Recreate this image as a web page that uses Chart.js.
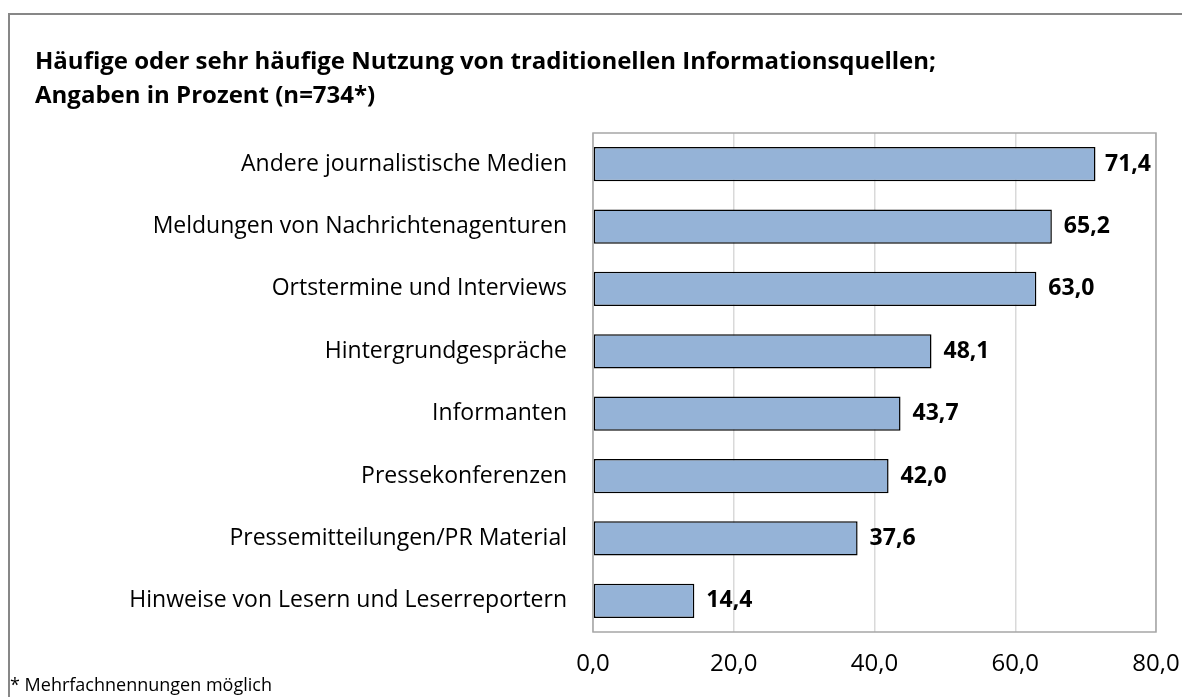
<!DOCTYPE html>
<html>
<head>
<meta charset="utf-8">
<script src="https://cdn.jsdelivr.net/npm/chart.js@4.4.0/dist/chart.umd.min.js"></script>
<style>
  html, body { margin: 0; padding: 0; background: #fff; }
  #chart { display: block; }
</style>
</head>
<body>
<canvas id="chart" width="1182" height="697"></canvas>
<script>
// ================= DATA =================
const categories = [
    'Andere journalistische Medien',
    'Meldungen von Nachrichtenagenturen',
    'Ortstermine und Interviews',
    'Hintergrundgespräche',
    'Informanten',
    'Pressekonferenzen',
    'Pressemitteilungen/PR Material',
    'Hinweise von Lesern und Leserreportern'
];
const values = [71.4, 65.2, 63.0, 48.1, 43.7, 42.0, 37.6, 14.4];
const tickValues = [0, 20, 40, 60, 80];
const titleLines = [
    'Häufige oder sehr häufige Nutzung von traditionellen Informationsquellen;',
    'Angaben in Prozent (n=734*)'
];
const footnote = '* Mehrfachnennungen möglich';

const FONT = '"Open Sans", sans-serif';

function fmt(v) {
    return v.toFixed(1).replace('.', ',');
}

// ================= DECORATION PLUGIN =================
const decorPlugin = {
    id: 'decor',
    beforeDraw(chart) {
        const { ctx } = chart;
        ctx.save();
        // outer frame (top + left)
        ctx.strokeStyle = '#878787';
        ctx.lineWidth = 2;
        ctx.beginPath();
        ctx.moveTo(9, chart.height);
        ctx.lineTo(9, 14);
        ctx.lineTo(chart.width, 14);
        ctx.stroke();

        // title
        ctx.fillStyle = '#000';
        ctx.font = 'bold 24px ' + FONT;
        ctx.textAlign = 'left';
        ctx.textBaseline = 'middle';
        ctx.fillText(titleLines[0], 35, 62);
        ctx.fillText(titleLines[1], 35, 96);

        // footnote
        ctx.font = '18px ' + FONT;
        ctx.fillText(footnote, 10, 686);
        ctx.restore();
    },
    afterDatasetsDraw(chart) {
        const { ctx, chartArea: a } = chart;
        ctx.save();
        // plot frame
        ctx.strokeStyle = '#a6a6a6';
        ctx.lineWidth = 1.5;
        ctx.strokeRect(a.left, a.top, a.right - a.left, a.bottom - a.top);

        // value labels (kept inside the chart like Excel does)
        ctx.fillStyle = '#000';
        ctx.font = 'bold 23px ' + FONT;
        ctx.textAlign = 'left';
        ctx.textBaseline = 'middle';
        const meta = chart.getDatasetMeta(0);
        meta.data.forEach((bar, i) => {
            const txt = fmt(values[i]);
            const w = ctx.measureText(txt).width;
            const x = Math.min(bar.x + 12, chart.width - 31 - w);
            ctx.fillText(txt, x, bar.y);
        });
        ctx.restore();
    }
};

// ================= CHART =================
new Chart(document.getElementById('chart'), {
    type: 'bar',
    data: {
        labels: categories,
        datasets: [{
            data: values,
            backgroundColor: '#95b3d7',
            borderColor: '#000',
            borderWidth: 1.5,
            borderSkipped: false,
            categoryPercentage: 0.55,
            barPercentage: 1
        }]
    },
    options: {
        indexAxis: 'y',
        responsive: false,
        animation: false,
        layout: {
            padding: { top: 133, right: 26, bottom: 0, left: 0 }
        },
        plugins: {
            legend: { display: false },
            tooltip: { enabled: false }
        },
        scales: {
            x: {
                min: 0,
                max: 80,
                afterBuildTicks(scale) {
                    scale.ticks = tickValues.map(v => ({ value: v }));
                },
                afterFit(scale) {
                    scale.height = 65;
                    scale.paddingLeft = 0;
                    scale.paddingRight = 0;
                },
                ticks: {
                    color: '#000',
                    font: { family: FONT, size: 24 },
                    padding: 18,
                    callback: v => fmt(v)
                },
                grid: {
                    color: '#d9d9d9',
                    lineWidth: 1.5,
                    drawTicks: false
                },
                border: { display: false }
            },
            y: {
                afterFit(scale) {
                    scale.width = 593;
                    scale.paddingTop = 0;
                    scale.paddingBottom = 0;
                },
                ticks: {
                    color: '#000',
                    font: { family: FONT, size: 23 },
                    padding: 26
                },
                grid: { display: false, drawTicks: false },
                border: { display: false }
            }
        }
    },
    plugins: [decorPlugin]
});
</script>
</body>
</html>
